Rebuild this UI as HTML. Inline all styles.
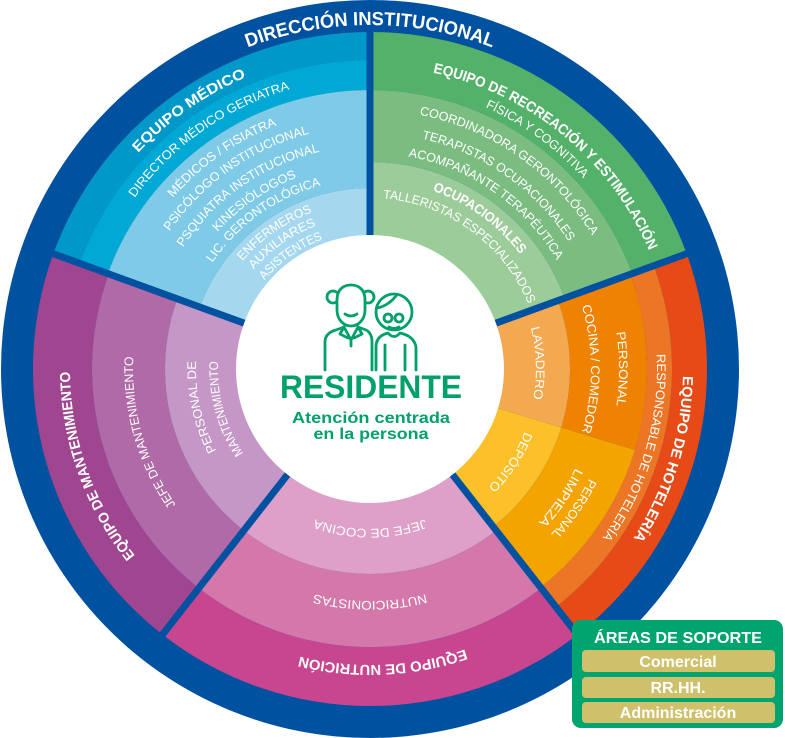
<!DOCTYPE html>
<html><head><meta charset="utf-8">
<style>
html,body{margin:0;padding:0;background:#fff;}
svg{display:block;font-family:"Liberation Sans",sans-serif;}
.t{fill:#fff;font-size:12.5px;}
.b{fill:#fff;font-size:14.5px;font-weight:bold;}
</style></head>
<body>
<svg id="s" width="785" height="738" viewBox="0 0 785 738" xmlns="http://www.w3.org/2000/svg">
<defs>
<path id="p0"/><path id="m1"/><path id="m2"/><path id="m3"/><path id="m4"/><path id="m5"/><path id="m6"/><path id="m7"/><path id="m8"/><path id="m9"/><path id="m10"/>
<path id="r1"/><path id="r2"/><path id="r3"/><path id="r4"/><path id="r5"/><path id="r6"/><path id="r7"/>
<path id="h1"/><path id="h2"/><path id="h3"/><path id="h4"/><path id="h5"/><path id="h6"/><path id="h7"/><path id="h8"/>
<path id="n1"/><path id="n2"/><path id="n3"/>
<path id="k1"/><path id="k2"/><path id="k3"/><path id="k4"/>
</defs>
<circle cx="370" cy="369" r="369" fill="#0051a0"/>
<g id="fills"></g>
<g id="divs"></g>
<circle cx="370" cy="369" r="134" fill="#fff"/>

<text class="b" style="font-size:19px"><textPath href="#p0" startOffset="50%" text-anchor="middle" textLength="250" lengthAdjust="spacingAndGlyphs">DIRECCIÓN INSTITUCIONAL</textPath></text>

<text class="b"><textPath href="#m1" startOffset="50%" text-anchor="middle" textLength="133" lengthAdjust="spacingAndGlyphs">EQUIPO MÉDICO</textPath></text>
<text class="t"><textPath href="#m2" startOffset="50%" text-anchor="middle" textLength="193" lengthAdjust="spacingAndGlyphs">DIRECTOR MÉDICO GERIATRA</textPath></text>
<text class="t"><textPath href="#m3" startOffset="50%" text-anchor="middle" textLength="128" lengthAdjust="spacingAndGlyphs">MÉDICOS / FISIATRA</textPath></text>
<text class="t"><textPath href="#m4" startOffset="50%" text-anchor="middle" textLength="174" lengthAdjust="spacingAndGlyphs">PSICÓLOGO INSTITUCIONAL</textPath></text>
<text class="t"><textPath href="#m5" startOffset="50%" text-anchor="middle" textLength="171" lengthAdjust="spacingAndGlyphs">PSQUIATRA INSTITUCIONAL</textPath></text>
<text class="t"><textPath href="#m6" startOffset="50%" text-anchor="middle" textLength="97" lengthAdjust="spacingAndGlyphs">KINESIÓLOGOS</textPath></text>
<text class="t"><textPath href="#m7" startOffset="50%" text-anchor="middle" textLength="136" lengthAdjust="spacingAndGlyphs">LIC. GERONTOLÓGICA</textPath></text>
<text class="t"><textPath href="#m8" startOffset="50%" text-anchor="middle" textLength="86" lengthAdjust="spacingAndGlyphs">ENFERMEROS</textPath></text>
<text class="t"><textPath href="#m9" startOffset="50%" text-anchor="middle" textLength="77" lengthAdjust="spacingAndGlyphs">AUXILIARES</textPath></text>
<text class="t"><textPath href="#m10" startOffset="50%" text-anchor="middle" textLength="72" lengthAdjust="spacingAndGlyphs">ASISTENTES</textPath></text>

<text class="b"><textPath href="#r1" startOffset="50%" text-anchor="middle" textLength="291" lengthAdjust="spacingAndGlyphs">EQUIPO DE RECREACIÓN Y ESTIMULACIÓN</textPath></text>
<text class="t"><textPath href="#r2" startOffset="50%" text-anchor="middle" textLength="122" lengthAdjust="spacingAndGlyphs">FÍSICA Y COGNITIVA</textPath></text>
<text class="t"><textPath href="#r3" startOffset="50%" text-anchor="middle" textLength="217" lengthAdjust="spacingAndGlyphs">COORDINADORA GERONTOLÓGICA</textPath></text>
<text class="t"><textPath href="#r4" startOffset="50%" text-anchor="middle" textLength="184" lengthAdjust="spacingAndGlyphs">TERAPISTAS OCUPACIONALES</textPath></text>
<text class="t"><textPath href="#r5" startOffset="50%" text-anchor="middle" textLength="187" lengthAdjust="spacingAndGlyphs">ACOMPAÑANTE TERAPÉUTICA</textPath></text>
<text class="b" style="font-size:13.5px"><textPath href="#r6" startOffset="50%" text-anchor="middle" textLength="110" lengthAdjust="spacingAndGlyphs">OCUPACIONALES</textPath></text>
<text class="t"><textPath href="#r7" startOffset="50%" text-anchor="middle" textLength="189" lengthAdjust="spacingAndGlyphs">TALLERISTAS ESPECIALIZADOS</textPath></text>

<text class="b"><textPath href="#h1" startOffset="50%" text-anchor="middle" textLength="172" lengthAdjust="spacingAndGlyphs">EQUIPO DE HOTELERÍA</textPath></text>
<text class="t"><textPath href="#h2" startOffset="50%" text-anchor="middle" textLength="195" lengthAdjust="spacingAndGlyphs">RESPONSABLE DE HOTELERÍA</textPath></text>
<text class="t"><textPath href="#h3" startOffset="50%" text-anchor="middle" textLength="74" lengthAdjust="spacingAndGlyphs">PERSONAL</textPath></text>
<text class="t"><textPath href="#h4" startOffset="50%" text-anchor="middle" textLength="128" lengthAdjust="spacingAndGlyphs">COCINA / COMEDOR</textPath></text>
<text class="t"><textPath href="#h5" startOffset="50%" text-anchor="middle" textLength="72" lengthAdjust="spacingAndGlyphs">LAVADERO</textPath></text>
<text class="t"><textPath href="#h6" startOffset="50%" text-anchor="middle" textLength="67" lengthAdjust="spacingAndGlyphs">DEPÓSITO</textPath></text>
<text class="t"><textPath href="#h7" startOffset="50%" text-anchor="middle" textLength="68" lengthAdjust="spacingAndGlyphs">PERSONAL</textPath></text>
<text class="t"><textPath href="#h8" startOffset="50%" text-anchor="middle" textLength="66" lengthAdjust="spacingAndGlyphs">LIMPIEZA</textPath></text>

<text class="t"><textPath href="#n1" startOffset="50%" text-anchor="middle" textLength="112" lengthAdjust="spacingAndGlyphs">JEFE DE COCINA</textPath></text>
<text class="t"><textPath href="#n2" startOffset="50%" text-anchor="middle" textLength="113" lengthAdjust="spacingAndGlyphs">NUTRICIONISTAS</textPath></text>
<text class="b"><textPath href="#n3" startOffset="50%" text-anchor="middle" textLength="168" lengthAdjust="spacingAndGlyphs">EQUIPO DE NUTRICIÓN</textPath></text>

<text class="b"><textPath href="#k1" startOffset="50%" text-anchor="middle" textLength="199" lengthAdjust="spacingAndGlyphs">EQUIPO DE MANTENIMIENTO</textPath></text>
<text class="t"><textPath href="#k2" startOffset="50%" text-anchor="middle" textLength="157" lengthAdjust="spacingAndGlyphs">JEFE DE MANTENIMIENTO</textPath></text>
<text class="t"><textPath href="#k3" startOffset="50%" text-anchor="middle" textLength="93" lengthAdjust="spacingAndGlyphs">PERSONAL DE</textPath></text>
<text class="t"><textPath href="#k4" startOffset="50%" text-anchor="middle" textLength="97" lengthAdjust="spacingAndGlyphs">MANTENIMIENTO</textPath></text>

<g fill="none" stroke="#00a06a" stroke-width="2.8" stroke-linecap="round" stroke-linejoin="round">
<circle cx="333" cy="297" r="6"/><circle cx="368" cy="297" r="6"/>
<path d="M337,300 C337,288 345,285 351,285 C357,285 365,288 365,300 L365,310 C365,320 358,326 351,326 C344,326 337,320 337,310 Z" fill="#fff"/>
<path d="M345,314 Q351,318 357,314"/>
<path d="M325,370 L325,342 Q325,333 336,330 L344,327 L351,340 L358,327 L366,330 Q372,333 372,342 L372,370"/>
<path d="M344,327 L340,334 L348,338 M358,327 L362,334 L354,338 M351,340 L351,346"/>
<circle cx="394" cy="312" r="18" fill="#fff"/>
<path d="M377,308 Q388,306 396,296"/>
<circle cx="388" cy="318" r="4"/><circle cx="399" cy="318" r="4"/>
<path d="M389,327 Q394,330 399,327"/>
<path d="M376,370 L376,347 Q376,336 388,333 Q394,340 400,333 Q414,336 416,347 L416,370"/>
<path d="M385,345 L385,370 M405,345 L405,370"/>
</g>
<text x="371" y="398" text-anchor="middle" fill="#00a06a" font-weight="bold" font-size="32" textLength="182" lengthAdjust="spacingAndGlyphs">RESIDENTE</text>
<text x="371" y="423" text-anchor="middle" fill="#00a06a" font-weight="bold" font-size="16" textLength="158" lengthAdjust="spacingAndGlyphs">Atención centrada</text>
<text x="371" y="439" text-anchor="middle" fill="#00a06a" font-weight="bold" font-size="16" textLength="115" lengthAdjust="spacingAndGlyphs">en la persona</text>

<rect x="572" y="620" width="211" height="108" rx="9" fill="#00a46e"/>
<text x="678" y="643" text-anchor="middle" fill="#fff" font-weight="bold" font-size="16" textLength="168" lengthAdjust="spacingAndGlyphs">ÁREAS DE SOPORTE</text>
<rect x="582" y="650" width="193" height="22" rx="4" fill="#cfc16b"/>
<rect x="582" y="677" width="193" height="21" rx="4" fill="#cfc16b"/>
<rect x="582" y="702" width="193" height="21" rx="4" fill="#cfc16b"/>
<text x="678" y="667" text-anchor="middle" fill="#fff" font-weight="bold" font-size="16">Comercial</text>
<text x="678" y="693" text-anchor="middle" fill="#fff" font-weight="bold" font-size="16">RR.HH.</text>
<text x="678" y="718" text-anchor="middle" fill="#fff" font-weight="bold" font-size="16">Administración</text>
</svg>
<script>
(function(){
var cx=370,cy=369;
function P(r,a){a=a*Math.PI/180;return [(cx+r*Math.cos(a)).toFixed(2),(cy-r*Math.sin(a)).toFixed(2)];}
function sec(r0,r1,a1,a2){var p1=P(r1,a1),p2=P(r1,a2),p3=P(r0,a2),p4=P(r0,a1),l=(a1-a2)>180?1:0;
return 'M'+p1+'A'+r1+','+r1+' 0 '+l+' 1 '+p2+'L'+p3+'A'+r0+','+r0+' 0 '+l+' 0 '+p4+'Z';}
var F=[
[309,337,160,90,'#0098c9'],[279,309,160,90,'#00a9d5'],[181,279,160,90,'#7fcae6'],[130,181,160,90,'#a5d8ee'],
[279,337,90,20,'#53b169'],[207,279,90,20,'#7bbd81'],[130,207,90,20,'#9ccc99'],
[302,337,20,-52,'#e64a17'],[277,302,20,-52,'#ed7626'],
[200,277,20,-17,'#ef8200'],[130,200,20,-17,'#f4a84f'],
[200,277,-17,-52,'#f4a400'],[130,200,-17,-52,'#fbc02a'],
[278,337,-52,-128,'#c8458f'],[205,278,-52,-128,'#d478ab'],[130,205,-52,-128,'#de9fc8'],
[278,337,-128,-200,'#a04590'],[205,278,-128,-200,'#b06aa7'],[130,205,-128,-200,'#c497c6']];
var h='';F.forEach(function(f){h+='<path d="'+sec(f[0],f[1],f[2],f[3])+'" fill="'+f[4]+'"/>';});
document.getElementById('fills').innerHTML=h;
var d='';[90,160,20,-52,-128].forEach(function(a){var p=P(128,a),q=P(340,a);d+='<line x1="'+p[0]+'" y1="'+p[1]+'" x2="'+q[0]+'" y2="'+q[1]+'" stroke="#0051a0" stroke-width="7"/>';});
document.getElementById('divs').innerHTML=d;
function arc(r,c){var a=P(r,c+80),b=P(r,c-80);return 'M'+a+'A'+r+','+r+' 0 0 1 '+b;}
var T={p0:[344,90],
m1:[317,125],m2:[291,125],m3:[261,125],m4:[243,125],m5:[223,125],m6:[205,124.5],m7:[190,125.5],m8:[167,125],m9:[153,125],m10:[138,125],
r1:[303,50.5],r2:[286,54],r3:[259,55],r4:[236,55],r5:[216,55],r6:[189,54],r7:[171,54],
h1:[313,-17],h2:[287,-16.5],h3:[249,0],h4:[221,0],h5:[166,2],h6:[167,-33.5],h7:[245,-34.5],h8:[228,-34],
n1:[160,-90],n2:[232,-90],n3:[296,-87.5],
k1:[300,199.5],k2:[237,196],k3:[174,192.7],k4:[152,195.4]};
for(var k in T){document.getElementById(k).setAttribute('d',arc(T[k][0],T[k][1]));}
})();
</script>
</body></html>
